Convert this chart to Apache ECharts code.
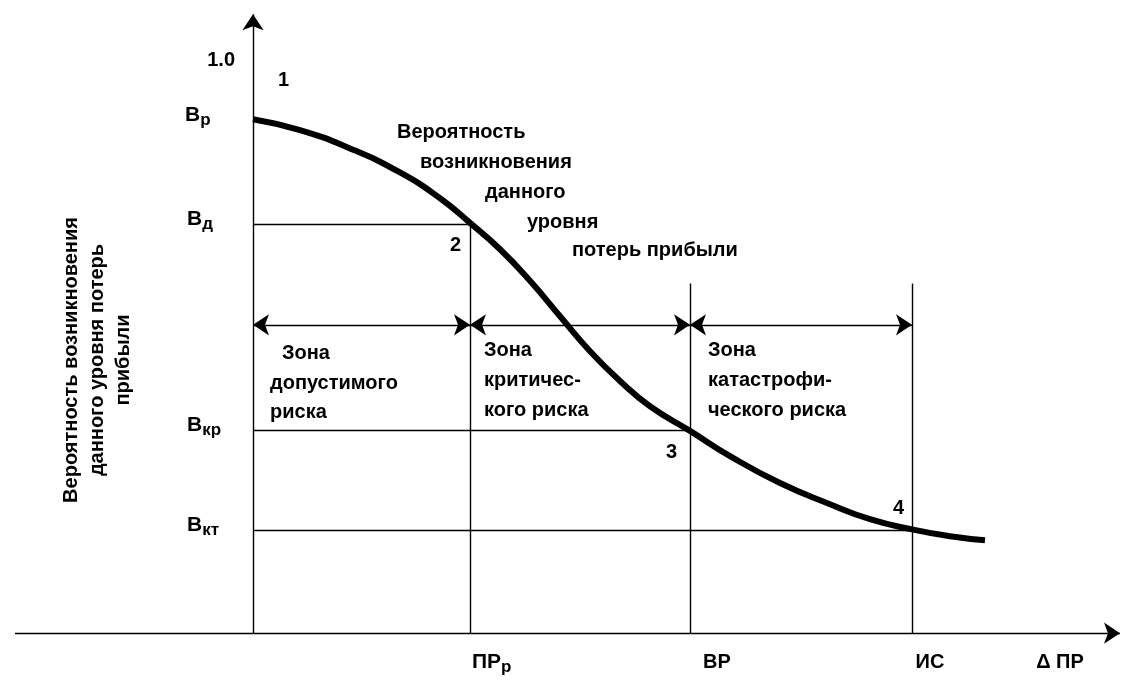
<!DOCTYPE html><html><head><meta charset="utf-8"><script src="https://cdn.jsdelivr.net/npm/echarts@6/dist/echarts.min.js"></script>
<style>html,body{margin:0;background:#fff}#c{width:1146px;height:691px}</style></head><body><div id="c"></div><script>
// x in arbitrary profit-loss units (0 = origin), y = probability
const curveX=[0,47,97,147,187,217,247,277,307,337,367,397,437,477,527,577,617,659,697,732];
const curveY=[0.897,0.878,0.846,0.804,0.759,0.716,0.670,0.615,0.553,0.492,0.440,0.396,0.353,0.309,0.262,0.225,0.199,0.181,0.169,0.162];
const levels={Bd:0.714,Bkr:0.354,Bkt:0.180,Bp:0.897};
const marksX={PRp:217,VR:437,IS:659};
const zoneY=0.538;
const c=echarts.init(document.getElementById('c'));
const X0=-253,X1=893,Y0=-0.101,Y1=1.105;
const ls={color:'#000',width:1.4,opacity:1};
const F='"Liberation Sans",Arial,sans-serif';
function seg(a,b,sym){return {type:'lines',coordinateSystem:'cartesian2d',symbol:sym||'none',symbolSize:16,lineStyle:ls,itemStyle:{color:'#000',opacity:1},data:[{coords:[a,b]}],z:2};}
const series=[
 {type:'line',data:curveX.map((x,i)=>[x,curveY[i]]),smooth:true,showSymbol:false,lineStyle:{color:'#000',width:6},z:5},
 seg([-238,0],[867,0],['none','arrow']),
 seg([0,0],[0,1.08],['none','arrow']),
 seg([0,levels.Bd],[marksX.PRp,levels.Bd]),
 seg([0,levels.Bkr],[marksX.VR,levels.Bkr]),
 seg([0,levels.Bkt],[marksX.IS,levels.Bkt]),
 seg([marksX.PRp,0],[marksX.PRp,levels.Bd]),
 seg([marksX.VR,0],[marksX.VR,0.61]),
 seg([marksX.IS,0],[marksX.IS,0.61]),
 seg([0,zoneY],[marksX.PRp,zoneY],['arrow','arrow']),
 seg([marksX.PRp,zoneY],[marksX.VR,zoneY],['arrow','arrow']),
 seg([marksX.VR,zoneY],[marksX.IS,zoneY],['arrow','arrow'])
];
const FN='bold 20px '+F;
function T(x,y,t,al){return {type:'text',x:x,y:y,style:{text:t,textAlign:al||'left',textVerticalAlign:'middle',font:FN,fill:'#000'}};}
function S(x,y,a,b){return {type:'text',x:x,y:y,style:{text:'{m|'+a+'}{s|'+b+'}',textVerticalAlign:'middle',rich:{m:{font:'bold 21px '+F,fill:'#000'},s:{font:'bold 17px '+F,fill:'#000',padding:[10,0,0,0]}}}};}
const g=[
 T(235,60,'1.0','right'),S(185,115,'В','р'),S(187,219,'В','д'),S(187,425,'В','кр'),S(187,525,'В','кт'),
 T(278,80,'1'),T(450,245,'2'),T(666,452,'3'),T(893,508,'4'),
 T(397,132,'Вероятность'),T(420,162,'возникновения'),T(485,192,'данного'),T(527,222,'уровня'),T(572,250,'потерь прибыли'),
 T(282,353,'Зона'),T(270,383,'допустимого'),T(270,412,'риска'),
 T(484,350,'Зона'),T(484,380,'критичес-'),T(484,410,'кого риска'),
 T(708,350,'Зона'),T(708,380,'катастрофи-'),T(708,410,'ческого риска'),
 S(472,662,'ПР','р'),T(717,662,'ВР','center'),T(930,662,'ИС','center'),T(1060,662,'Δ ПР','center'),
 {type:'text',x:97,y:360,rotation:Math.PI/2,style:{text:'Вероятность возникновения\nданного уровня потерь\nприбыли',font:FN,fill:'#000',textAlign:'center',textVerticalAlign:'middle',lineHeight:26}}
];
c.setOption({animation:false,grid:{left:0,right:0,top:0,bottom:0},
 xAxis:{type:'value',min:X0,max:X1,show:false},yAxis:{type:'value',min:Y0,max:Y1,show:false},
 series:series,graphic:g});
</script></body></html>
